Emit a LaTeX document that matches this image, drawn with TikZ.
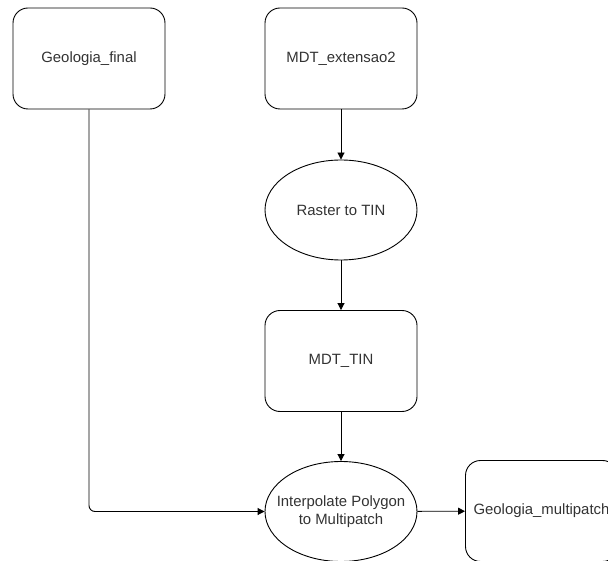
\documentclass[tikz,border=0pt]{standalone}
\usepackage{fontspec}
\setmainfont{Liberation Sans}
\usetikzlibrary{arrows.meta,shapes.geometric}
\definecolor{txt}{HTML}{333333}
\tikzset{
  lbl/.style={text=txt, font=\fontsize{14.9}{17.5}\selectfont, align=center},
  box/.style={draw=black, line width=0.9pt, rounded corners=15pt, fill=white,
    minimum width=152pt, minimum height=101pt, inner sep=0pt, lbl},
  % ellipse of fixed size; its caption is placed as a centred label
  proc/.style={draw=black, line width=0.9pt, ellipse, fill=white,
    minimum width=152pt, minimum height=100pt, inner sep=0pt,
    label={[lbl]center:#1}},
  flow/.style={draw=black, line width=0.9pt, -{Triangle[length=7pt,width=7pt]}}
}
\begin{document}
\begin{tikzpicture}[x=1pt,y=-1pt]
  \useasboundingbox (0,0) rectangle (608,561);
  \node[box]  (geo)  at (89,58.5)   {Geologia\_final};
  \node[box]  (mdt)  at (341,58.5)  {MDT\_extensao2};
  \node[proc={Raster to TIN}] (r2t) at (341,210) {};
  \node[box]  (tin)  at (341,361)   {MDT\_TIN};
  \node[proc={Interpolate Polygon\\to Multipatch}] (ipm) at (341,511.5) {};
  \node[box]  (gmp)  at (541.5,511) {Geologia\_multipatch};
  \draw[flow] (mdt) -- (r2t);
  \draw[flow] (r2t) -- (tin);
  \draw[flow] (tin) -- (ipm);
  \draw[flow, rounded corners=6pt] (geo.south) |- (ipm.west);
  \draw[flow] (ipm) -- (gmp);
\end{tikzpicture}
\end{document}
